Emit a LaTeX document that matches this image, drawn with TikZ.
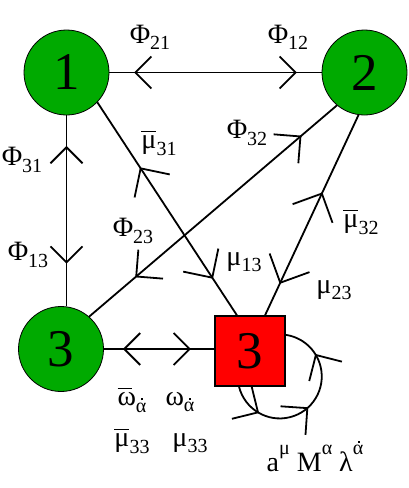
\documentclass[tikz,border=0pt]{standalone}
\usepackage{fontspec}
\setmainfont{Liberation Serif}
\usetikzlibrary{decorations.markings}
\definecolor{gaugegreen}{RGB}{0,170,0}
\definecolor{flavourred}{RGB}{255,0,0}
\newcommand{\lo}[1]{\raisebox{-.22em}{\fontsize{20}{20}\selectfont#1}}
\newcommand{\hi}[1]{\raisebox{.6em}{\fontsize{20}{20}\selectfont#1}}
\newcommand{\mub}{\leavevmode\rlap{\rule[.6em]{.52em}{.05em}}μ}
\newcommand{\omb}{\leavevmode\rlap{\rule[.6em]{.52em}{.05em}}ω}
\newcommand{\adot}{\leavevmode\rlap{\kern.24em\rule[.58em]{.1em}{.1em}}α}

\begin{document}
\begin{tikzpicture}[
    x=1pt, y=-1pt,
    line width=1.8pt,
    gauge/.style={circle, draw, line width=0.8pt, fill=gaugegreen, minimum size=85pt, inner sep=0pt, font=\fontsize{53}{55}\selectfont},
    flavour/.style={rectangle, draw, line width=1.2pt, fill=flavourred, minimum size=70pt, inner sep=0pt, font=\fontsize{53}{55}\selectfont},
    lbl/.style={inner sep=0pt, font=\fontsize{28}{30}\selectfont},
    both/.style n args={3}{postaction={decorate, decoration={markings,
        mark=at position #1 with {\draw (#3pt,#3pt) -- (0,0) -- (#3pt,-#3pt);},
        mark=at position #2 with {\draw (-#3pt,#3pt) -- (0,0) -- (-#3pt,-#3pt);}}}},
    loops/.style={postaction={decorate, decoration={markings,
        mark=at position 0.18 with {\draw (-#1pt,#1pt) -- (0,0) -- (-#1pt,-#1pt);},
        mark=at position 0.47 with {\draw (-#1pt,#1pt) -- (0,0) -- (-#1pt,-#1pt);},
        mark=at position 0.79 with {\draw (-#1pt,#1pt) -- (0,0) -- (-#1pt,-#1pt);}}}}
]
    \useasboundingbox (0,0) rectangle (409,488);
    \node[gauge] (n1) at (66.5,72.5) {1};
    \node[gauge] (n2) at (364.5,72.5) {2};
    \node[gauge] (n3) at (61,349) {3};
    \node[flavour] (sq) at (250,351) {3};

    \draw[both={0.122}{0.878}{16}] (n1) -- (n2);
    \draw[both={0.167}{0.771}{16}] (n1) -- (n1 |- n3.north);
    \draw[both={0.31}{0.823}{21}] (n1.-44) -- ([xshift=-13pt]sq.north);
    \draw[both={0.19}{0.853}{19}] (n3.49.5) -- (n2.230.6);
    \draw[both={0.392}{0.837}{22}] (n2.262.6) -- ([xshift=15pt]sq.north);
    \draw[both={0.184}{0.776}{16}] (n3) -- (n3 -| sq.west);
    \draw[loops=19] ([xshift=-11pt]sq.south) arc[start angle=166, end angle=-83, radius=42];

    \node[lbl] (l21) at (150,37) {Φ\lo{21}};
    \node[lbl] (l12) at (288,37) {Φ\lo{12}};
    \node[lbl] (l31) at (22,160) {Φ\lo{31}};
    \node[lbl] (l13) at (28,255) {Φ\lo{13}};
    \node[lbl] (m31) at (159,143) {\mub\lo{31}};
    \node[lbl] (l32) at (247,133) {Φ\lo{32}};
    \node[lbl] (l23) at (133,231) {Φ\lo{23}};
    \node[lbl] (m13) at (244,262) {μ\lo{13}};
    \node[lbl] (m32) at (361,222) {\mub\lo{32}};
    \node[lbl] (m23) at (334,290) {μ\lo{23}};
    \node[lbl] (wb) at (132,400) {\omb\lo{\adot}};
    \node[lbl] (w) at (180,402) {ω\lo{\adot}};
    \node[lbl] (m33b) at (132,441) {\mub\lo{33}};
    \node[lbl] (m33) at (190,443) {μ\lo{33}};
    \node[lbl] (adj) at (315,456) {a\hi{μ} M\hi{α} λ\hi{\adot}};
\end{tikzpicture}
\end{document}
